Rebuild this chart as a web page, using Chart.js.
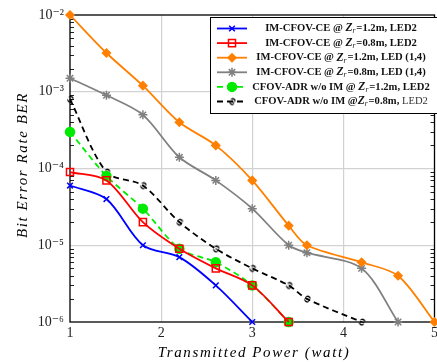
<!DOCTYPE html>
<html>
<head>
<meta charset="utf-8">
<style>
html, body { margin: 0; padding: 0; background: #fff; overflow: hidden; }
#wrap { position: relative; width: 441px; height: 362px; }
</style>
<script src="https://cdn.jsdelivr.net/npm/chart.js@4.4.1/dist/chart.umd.js"></script>
</head>
<body>
<div id="wrap"><canvas id="grafico" width="441" height="362"></canvas></div>
<script>
// potencia transmitida (watt) - cada serie usa os primeiros pontos
var potencia = [1, 1.4, 1.8, 2.2, 2.6, 3, 3.4, 3.6, 4.2, 4.6, 5];

var berAzul    = [6e-5, 4e-5, 1e-5, 7e-6, 3e-6, 1e-6];
var berVermelho = [9e-5, 7e-5, 2e-5, 9e-6, 5e-6, 3e-6, 1e-6];
var berLaranja = [1e-2, 3.2e-3, 1.2e-3, 4e-4, 2e-4, 7e-5, 1.8e-5, 1e-5, 6e-6, 4e-6, 1e-6];
var berCinza   = [1.5e-3, 9e-4, 5e-4, 1.4e-4, 7e-5, 3e-5, 1e-5, 8e-6, 5e-6, 1e-6];
var berVerde   = [3e-4, 8e-5, 3e-5, 9e-6, 6e-6, 3e-6, 1e-6];
var berPreto   = [8e-4, 9e-5, 6e-5, 2e-5, 9e-6, 5e-6, 3e-6, 2e-6, 1e-6];

var xTicks = [1, 2, 3, 4, 5];
var yTicks = [1e-6, 1e-5, 1e-4, 1e-3, 1e-2];
var yTickLabels = ['10\u207B\u2076', '10\u207B\u2075', '10\u207B\u2074', '10\u207B\u00B3', '10\u207B\u00B2'];

var legendaAntes = ['IM-CFOV-CE @ ', 'IM-CFOV-CE @ ', 'IM-CFOV-CE @ ', 'IM-CFOV-CE @ ', 'CFOV-ADR w/o IM @ ', 'CFOV-ADR w/o IM @'];
var legendaDepois = ['=1.2m, LED2', '=0.8m, LED2', '=1.2m, LED (1,4)', '=0.8m, LED (1,4)', '=1.2m, LED2', '=0.8m, LED2'];

var tituloX = 'Transmitted Power (watt)';
var tituloY = 'Bit Error Rate BER';

var serif = '"Liberation Serif", "DejaVu Serif", serif';

function pontos(valores) {
    return valores.map(function(v, i) { return { x: potencia[i], y: v }; });
}

// marcador estranho da serie preta
var marcaPreta = document.createElement('canvas');
marcaPreta.width = 12;
marcaPreta.height = 12;
(function() {
    var c = marcaPreta.getContext('2d');
    c.translate(6, 6);
    c.rotate(-1.1);
    c.fillStyle = '#000';
    c.font = 'bold 11px ' + serif;
    c.textAlign = 'center';
    c.textBaseline = 'middle';
    c.fillText('\u03C9', 0, 0);
})();

function serie(i, valores, cor, estilo, raio, tracejado, fundo) {
    return {
        label: legendaAntes[i] + 'Zr' + legendaDepois[i],
        data: pontos(valores),
        borderColor: cor,
        backgroundColor: fundo,
        borderWidth: 1.8,
        borderDash: tracejado,
        pointStyle: estilo,
        pointRadius: raio,
        pointHoverRadius: raio,
        pointBorderColor: cor,
        pointBackgroundColor: fundo,
        pointBorderWidth: 1.5,
        tension: 0.3,
        clip: false
    };
}

var datasets = [
    serie(0, berAzul, 'rgb(0,0,255)', 'crossRot', 4, [], 'rgb(0,0,255)'),
    serie(1, berVermelho, 'rgb(255,0,0)', 'rect', 5, [], 'rgba(255,255,255,0)'),
    serie(2, berLaranja, 'rgb(255,128,0)', 'rectRot', 4, [], 'rgb(255,128,0)'),
    serie(3, berCinza, 'rgb(128,128,128)', 'star', 4.5, [], 'rgb(128,128,128)'),
    serie(4, berVerde, 'rgb(0,235,0)', 'circle', 4.5, [6, 4], 'rgb(0,235,0)'),
    serie(5, berPreto, 'rgb(0,0,0)', marcaPreta, 5, [6, 4], 'rgb(0,0,0)')
];

var moldura = {
    id: 'moldura',
    beforeDatasetsDraw: function(chart) {
        var ctx = chart.ctx, a = chart.chartArea;
        var ys = chart.scales.y;
        ctx.save();
        ctx.strokeStyle = '#222';
        ctx.lineWidth = 1;
        // marcas menores no eixo y
        for (var e = -6; e < -2; e++) {
            for (var k = 2; k <= 9; k++) {
                var py = Math.round(ys.getPixelForValue(k * Math.pow(10, e))) + 0.5;
                ctx.beginPath();
                ctx.moveTo(a.left, py); ctx.lineTo(a.left + 4, py);
                ctx.moveTo(a.right, py); ctx.lineTo(a.right - 4, py);
                ctx.stroke();
            }
        }
        ctx.strokeStyle = '#000';
        ctx.lineWidth = 1.3;
        ctx.strokeRect(a.left, a.top, a.right - a.left, a.bottom - a.top);
        ctx.restore();
    },
    afterDraw: function(chart) {
        var ctx = chart.ctx, a = chart.chartArea;
        ctx.save();
        ctx.fillStyle = '#000';
        ctx.textAlign = 'center';
        ctx.textBaseline = 'middle';
        ctx.letterSpacing = '1.6px';
        ctx.font = 'italic 15px ' + serif;
        ctx.fillText(tituloX, 254, 353);
        ctx.translate(23, 165);
        ctx.rotate(-Math.PI / 2);
        ctx.fillText(tituloY, 0, 0);
        ctx.restore();

        // legenda
        ctx.save();
        ctx.letterSpacing = '0px';
        ctx.fillStyle = '#fff';
        ctx.fillRect(210, 17, 240, 96);
        ctx.strokeStyle = '#000';
        ctx.lineWidth = 1;
        ctx.strokeRect(210.5, 17.5, 240, 96);
        chart.data.datasets.forEach(function(ds, i) {
            var y = 28.5 + i * 14.6;
            ctx.save();
            ctx.strokeStyle = ds.borderColor;
            ctx.lineWidth = ds.borderWidth;
            ctx.setLineDash(ds.borderDash);
            ctx.beginPath();
            ctx.moveTo(217, y); ctx.lineTo(247, y);
            ctx.stroke();
            ctx.setLineDash([]);
            ctx.fillStyle = ds.pointBackgroundColor;
            ctx.strokeStyle = ds.pointBorderColor;
            ctx.lineWidth = ds.pointBorderWidth;
            Chart.helpers.drawPoint(ctx, { pointStyle: ds.pointStyle, radius: ds.pointRadius, rotation: 0, borderWidth: ds.pointBorderWidth }, 232, y);
            ctx.restore();

            var tam = 10.6;
            var fAntes = 'bold ' + tam + 'px ' + serif;
            var fZ = 'italic bold 11.5px ' + serif;
            var fR = 'italic 7.5px ' + serif;
            var fDepois = (i === 5) ? tam + 'px ' + serif : fAntes;
            ctx.font = fAntes; var w1 = ctx.measureText(legendaAntes[i]).width;
            ctx.font = fZ; var w2 = ctx.measureText('Z').width;
            ctx.font = fR; var w3 = ctx.measureText('r').width + 1;
            var w4, wa;
            if (i === 5) {
                ctx.font = fAntes;
                wa = ctx.measureText('=0.8m, ').width;
                ctx.font = fDepois;
                w4 = wa + ctx.measureText('LED2').width;
            } else {
                ctx.font = fDepois; w4 = ctx.measureText(legendaDepois[i]).width;
            }
            var x = 341 - (w1 + w2 + w3 + w4) / 2;
            ctx.fillStyle = '#111';
            ctx.textAlign = 'left';
            ctx.textBaseline = 'middle';
            ctx.font = fAntes; ctx.fillText(legendaAntes[i], x, y); x += w1;
            ctx.font = fZ; ctx.fillText('Z', x, y); x += w2;
            ctx.font = fR; ctx.fillText('r', x, y + 3); x += w3;
            if (i === 5) {
                ctx.font = fAntes; ctx.fillText('=0.8m, ', x, y); x += wa;
                ctx.font = fDepois; ctx.fillStyle = '#333'; ctx.fillText('LED2', x, y);
            } else {
                ctx.font = fDepois; ctx.fillText(legendaDepois[i], x, y);
            }
        });
        ctx.restore();
    }
};

var grafico = new Chart(document.getElementById('grafico'), {
    type: 'line',
    data: { datasets: datasets },
    plugins: [moldura],
    options: {
        responsive: false,
        animation: false,
        layout: { padding: { top: 15, right: 1, left: 0, bottom: 0 } },
        plugins: { legend: { display: false }, tooltip: { enabled: false } },
        scales: {
            x: {
                type: 'linear',
                min: 1,
                max: 5,
                afterBuildTicks: function(s) { s.ticks = xTicks.map(function(v) { return { value: v }; }); },
                afterFit: function(s) { s.height = 40; s.paddingLeft = 0; s.paddingRight = 0; },
                ticks: { color: '#222', font: { family: serif, size: 14 }, padding: 3, maxRotation: 0, autoSkip: false },
                grid: {
                    drawTicks: false,
                    color: function(c) { return (c.tick && (c.tick.value === 1 || c.tick.value === 5)) ? 'rgba(0,0,0,0)' : '#d2d2d2'; },
                    lineWidth: 1.2
                },
                border: { display: false }
            },
            y: {
                type: 'logarithmic',
                min: 1e-6,
                max: 1e-2,
                afterBuildTicks: function(s) { s.ticks = yTicks.map(function(v) { return { value: v, major: true }; }); },
                afterFit: function(s) { s.width = 70; s.paddingTop = 0; s.paddingBottom = 0; },
                ticks: {
                    color: '#222',
                    font: { family: serif, size: 14 },
                    padding: 6,
                    autoSkip: false,
                    callback: function(v, i) { return yTickLabels[i]; }
                },
                grid: {
                    drawTicks: false,
                    color: function(c) { return (c.tick && (c.tick.value === 1e-6 || c.tick.value === 1e-2)) ? 'rgba(0,0,0,0)' : '#d2d2d2'; },
                    lineWidth: 1.2
                },
                border: { display: false }
            }
        }
    }
});
</script>
</body>
</html>
